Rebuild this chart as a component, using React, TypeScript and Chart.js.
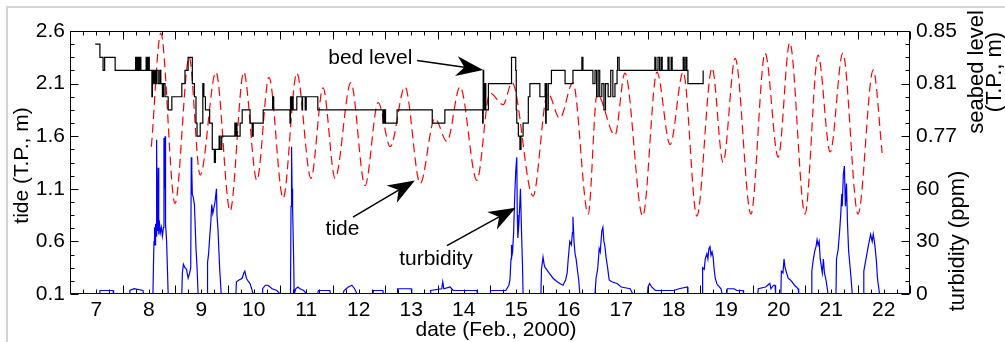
import React, { useEffect, useRef } from "react";
import { Chart, registerables } from "chart.js";
Chart.register(...registerables);

// ---------- axes ----------
const X_MIN = 7;
const X_MAX = 23;
const DAY_LABELS = [7, 8, 9, 10, 11, 12, 13, 14, 15, 16, 17, 18, 19, 20, 21, 22];
const TIDE_MIN = 0.1;
const TIDE_MAX = 2.6;
const TIDE_TICKS = [0.1, 0.6, 1.1, 1.6, 2.1, 2.6];
const SEABED_MIN = 0.65;
const SEABED_MAX = 0.85;
const SEABED_TICKS = [0.77, 0.81, 0.85];
const TURB_MIN = 0;
const TURB_MAX = 150;
const TURB_TICKS = [0, 30, 60];

// ---------- data: [day, value] ----------
const TIDE: number[][] = [
  [8.55, 1.5], [8.73, 2.58], [9.0, 0.96], [9.27, 2.35], [9.48, 1.23], [9.78, 2.21], [10.05, 0.89],
  [10.31, 2.21], [10.56, 1.18], [10.79, 2.16], [11.06, 1.01], [11.32, 2.2], [11.59, 1.2], [11.82, 2.06],
  [12.05, 1.2], [12.35, 2.11], [12.62, 1.13], [12.87, 1.92], [13.1, 1.5], [13.38, 2.07], [13.67, 1.15],
  [13.95, 1.77], [14.18, 1.55], [14.43, 2.07], [14.75, 1.18], [15.0, 2.01], [15.25, 1.9], [15.42, 2.11],
  [15.82, 1.03], [16.1, 2.01], [16.33, 1.77], [16.58, 2.11], [16.87, 0.86], [17.04, 2.0], [17.38, 1.61],
  [17.57, 2.2], [17.91, 0.84], [18.18, 2.21], [18.43, 1.52], [18.68, 2.21], [18.94, 0.84], [19.23, 2.25],
  [19.44, 1.35], [19.67, 2.34], [19.97, 0.86], [20.24, 2.39], [20.49, 1.4], [20.71, 2.49], [21.0, 0.86],
  [21.25, 2.37], [21.48, 1.45], [21.72, 2.39], [22.01, 0.86], [22.3, 2.23], [22.47, 1.44],
];

const BED: number[][] = [
  [7.48, 0.84], [7.57, 0.83], [7.63, 0.82], [7.66, 0.83], [7.86, 0.82], [8.25, 0.83], [8.27, 0.82],
  [8.29, 0.83], [8.31, 0.82], [8.33, 0.83], [8.35, 0.82], [8.45, 0.83], [8.47, 0.82], [8.49, 0.83],
  [8.51, 0.82], [8.56, 0.8], [8.57, 0.82], [8.59, 0.81], [8.61, 0.82], [8.63, 0.81], [8.65, 0.82],
  [8.68, 0.81], [8.71, 0.82], [8.73, 0.81], [8.76, 0.8], [8.78, 0.81], [8.81, 0.8], [8.87, 0.79],
  [8.94, 0.8], [9.13, 0.81], [9.19, 0.82], [9.25, 0.83], [9.33, 0.81], [9.37, 0.8], [9.4, 0.78],
  [9.42, 0.77], [9.48, 0.78], [9.53, 0.81], [9.55, 0.8], [9.58, 0.79], [9.66, 0.78], [9.71, 0.76],
  [9.75, 0.75], [9.77, 0.76], [9.84, 0.77], [9.86, 0.76], [9.89, 0.77], [10.14, 0.78], [10.15, 0.77],
  [10.17, 0.78], [10.18, 0.77], [10.24, 0.78], [10.28, 0.79], [10.43, 0.78], [10.47, 0.77], [10.49, 0.78],
  [10.68, 0.79], [10.86, 0.8], [10.88, 0.79], [11.19, 0.78], [11.2, 0.8], [11.22, 0.79], [11.23, 0.8],
  [11.25, 0.79], [11.32, 0.8], [11.42, 0.79], [11.43, 0.8], [11.48, 0.79], [11.5, 0.8], [11.72, 0.79],
  [12.96, 0.78], [12.97, 0.79], [12.98, 0.78], [13.0, 0.79], [13.01, 0.78], [13.23, 0.79], [13.9, 0.78],
  [14.14, 0.79], [14.86, 0.78], [14.87, 0.82], [14.88, 0.79], [14.9, 0.81], [14.92, 0.79], [14.97, 0.81],
  [15.41, 0.83], [15.49, 0.82], [15.5, 0.79], [15.51, 0.78], [15.54, 0.77], [15.57, 0.76], [15.59, 0.77],
  [15.63, 0.78], [15.73, 0.8], [15.76, 0.81], [15.95, 0.8], [16.05, 0.81], [16.06, 0.78], [16.07, 0.81],
  [16.08, 0.79], [16.11, 0.81], [16.17, 0.82], [16.43, 0.81], [16.58, 0.82], [16.75, 0.83], [16.77, 0.82],
  [16.96, 0.81], [17.0, 0.82], [17.03, 0.8], [17.06, 0.82], [17.09, 0.8], [17.13, 0.81], [17.17, 0.79],
  [17.2, 0.81], [17.25, 0.8], [17.3, 0.82], [17.34, 0.8], [17.38, 0.81], [17.42, 0.82], [17.43, 0.83],
  [17.46, 0.82], [18.14, 0.83], [18.16, 0.82], [18.2, 0.83], [18.23, 0.82], [18.26, 0.83], [18.28, 0.82],
  [18.39, 0.83], [18.41, 0.82], [18.45, 0.83], [18.47, 0.82], [18.68, 0.83], [18.7, 0.82], [18.73, 0.83],
  [18.75, 0.82], [18.77, 0.81], [19.06, 0.82],
];

const TURBIDITY: number[][] = [
  [7.0, 0], [7.56, 0], [7.57, 2], [7.82, 2], [7.83, 0], [8.13, 0], [8.14, 2], [8.22, 3], [8.39, 2], [8.4, 0],
  [8.58, 0], [8.59, 17], [8.6, 30], [8.61, 38], [8.62, 28], [8.63, 40], [8.64, 33], [8.65, 88], [8.66, 40],
  [8.67, 36], [8.68, 72], [8.69, 34], [8.7, 42], [8.72, 35], [8.74, 38], [8.76, 33], [8.78, 38], [8.79, 89],
  [8.8, 60], [8.81, 90], [8.82, 40], [8.84, 30], [8.86, 10], [8.87, 0],
  [9.13, 0], [9.14, 12], [9.16, 17], [9.19, 15], [9.22, 14], [9.25, 9], [9.28, 12], [9.3, 15], [9.31, 78],
  [9.32, 70], [9.33, 57], [9.35, 55], [9.37, 51], [9.4, 26], [9.42, 15], [9.44, 0],
  [9.61, 0], [9.62, 18], [9.64, 23], [9.66, 32], [9.68, 40], [9.7, 51], [9.72, 46], [9.74, 49], [9.76, 52],
  [9.79, 60], [9.8, 45], [9.82, 36], [9.85, 15], [9.88, 0],
  [10.16, 0], [10.17, 7], [10.22, 8], [10.28, 9], [10.31, 12], [10.33, 13], [10.36, 9], [10.4, 7], [10.43, 6],
  [10.49, 0], [10.66, 0], [10.67, 3], [10.72, 5], [10.77, 5], [10.85, 3], [10.94, 2], [11.0, 0],
  [11.2, 0], [11.21, 50], [11.22, 84], [11.23, 60], [11.24, 49], [11.26, 20], [11.27, 0], [11.28, 0],
  [11.3, 3], [11.34, 4], [11.38, 3], [11.45, 2], [11.51, 0], [11.72, 0], [11.73, 2], [11.95, 2], [11.96, 0],
  [12.2, 0], [12.22, 2], [12.3, 4], [12.37, 5], [12.42, 3], [12.47, 0], [12.77, 0], [12.78, 2], [12.96, 2],
  [12.97, 0], [13.23, 0], [13.24, 3], [13.5, 3], [13.51, 0], [13.86, 0], [13.87, 2], [14.08, 3], [14.1, 7],
  [14.12, 3], [14.24, 4], [14.3, 2], [14.75, 2], [14.76, 0],
  [15.0, 0], [15.01, 2], [15.3, 2], [15.36, 5], [15.38, 8], [15.4, 20], [15.41, 28], [15.43, 24], [15.45, 35],
  [15.47, 55], [15.49, 70], [15.51, 78], [15.52, 45], [15.53, 32], [15.55, 40], [15.57, 53], [15.58, 60],
  [15.6, 36], [15.62, 15], [15.63, 0],
  [15.97, 0], [15.98, 14], [16.01, 21], [16.03, 17], [16.05, 15], [16.08, 14], [16.1, 13], [16.15, 11],
  [16.2, 9], [16.28, 7], [16.33, 6], [16.39, 5], [16.44, 8], [16.47, 12], [16.49, 20], [16.52, 30],
  [16.55, 28], [16.57, 35], [16.58, 44], [16.6, 30], [16.62, 23], [16.64, 20], [16.66, 15], [16.69, 8],
  [16.71, 0],
  [17.0, 0], [17.02, 9], [17.05, 14], [17.08, 26], [17.1, 24], [17.13, 36], [17.15, 38], [17.17, 30],
  [17.19, 27], [17.21, 21], [17.24, 15], [17.27, 8], [17.32, 7], [17.42, 6], [17.5, 4], [17.67, 3], [17.72, 0],
  [18.0, 0], [18.01, 4], [18.04, 6], [18.08, 4], [18.15, 2], [18.5, 2], [18.6, 3], [18.76, 4], [18.77, 0],
  [19.04, 0], [19.05, 15], [19.08, 14], [19.1, 20], [19.13, 23], [19.15, 20], [19.17, 26], [19.19, 27],
  [19.21, 22], [19.23, 24], [19.25, 21], [19.27, 14], [19.29, 9], [19.32, 6], [19.34, 5], [19.4, 3], [19.42, 0],
  [19.51, 0], [19.52, 3], [19.65, 3], [19.7, 2], [19.82, 2], [19.83, 0],
  [20.1, 0], [20.11, 3], [20.25, 4], [20.33, 6], [20.35, 3], [20.4, 5], [20.43, 5], [20.44, 0],
  [20.54, 0], [20.55, 13], [20.58, 12], [20.6, 20], [20.62, 15], [20.65, 12], [20.68, 9], [20.72, 8],
  [20.75, 7], [20.8, 5], [20.87, 3], [20.88, 0],
  [21.12, 0], [21.13, 13], [21.16, 20], [21.19, 25], [21.21, 27], [21.23, 31], [21.25, 28], [21.27, 30],
  [21.29, 20], [21.31, 16], [21.33, 12], [21.35, 20], [21.37, 12], [21.4, 8], [21.44, 0],
  [21.59, 0], [21.6, 20], [21.63, 25], [21.66, 36], [21.68, 45], [21.7, 57], [21.71, 50], [21.73, 68],
  [21.75, 73], [21.77, 50], [21.79, 63], [21.81, 40], [21.83, 25], [21.86, 15], [21.88, 8], [21.9, 0],
  [22.11, 0], [22.12, 13], [22.15, 18], [22.18, 23], [22.21, 28], [22.25, 34], [22.28, 30], [22.3, 34],
  [22.33, 28], [22.36, 19], [22.38, 9], [22.42, 0], [23.0, 0],
];

// annotations: [label, textX(day), textY(tide), arrowFromX, arrowFromY, arrowToX, arrowToY]
const NOTES: [string, number, number, number, number, number, number][] = [
  ["bed level", 13.52, 2.34, 13.61, 2.32, 14.87, 2.23],
  ["tide", 12.19, 0.72, 12.39, 0.83, 13.57, 1.18],
  ["turbidity", 13.97, 0.43, 14.18, 0.56, 15.49, 0.92],
];

const FONT = "'Liberation Sans', Arial, Helvetica, sans-serif";

function turbToSeabed(v: number) {
  return SEABED_MIN + ((v - TURB_MIN) / (TURB_MAX - TURB_MIN)) * (SEABED_MAX - SEABED_MIN);
}
function seabedToTurb(v: number) {
  return TURB_MIN + ((v - SEABED_MIN) / (SEABED_MAX - SEABED_MIN)) * (TURB_MAX - TURB_MIN);
}

function drawArrow(ctx: CanvasRenderingContext2D, x0: number, y0: number, x1: number, y1: number) {
  const ang = Math.atan2(y1 - y0, x1 - x0);
  const c = Math.cos(ang), s = Math.sin(ang);
  const L = 27, W = 10, N = 19;
  ctx.beginPath();
  ctx.moveTo(x0, y0);
  ctx.lineTo(x1 - c * N, y1 - s * N);
  ctx.stroke();
  const bx = x1 - c * L, by = y1 - s * L;
  ctx.beginPath();
  ctx.moveTo(x1, y1);
  ctx.lineTo(bx - s * W, by + c * W);
  ctx.lineTo(x1 - c * N, y1 - s * N);
  ctx.lineTo(bx + s * W, by - c * W);
  ctx.closePath();
  ctx.fill();
}

function vText(ctx: CanvasRenderingContext2D, text: string, cx: number, cy: number) {
  ctx.save();
  ctx.translate(cx, cy);
  ctx.rotate(-Math.PI / 2);
  ctx.textAlign = "center";
  ctx.textBaseline = "middle";
  ctx.fillText(text, 0, 0);
  ctx.restore();
}

const decor = {
  id: "decor",
  beforeDatasetsDraw(chart: any) {
    const { ctx, chartArea: a, scales } = chart;
    const x = scales.x, y = scales.y;
    ctx.save();
    ctx.strokeStyle = "#000";
    ctx.lineWidth = 1;
    const L = Math.round(a.left) + 0.5, R = Math.round(a.right) - 0.5;
    const T = Math.round(a.top) + 0.5, B = Math.round(a.bottom) - 0.5;
    ctx.strokeRect(L, T, R - L, B - T);
    ctx.beginPath();
    for (let t = X_MIN; t <= X_MAX + 1e-9; t += 0.25) {
      const px = Math.round(x.getPixelForValue(t)) + 0.5;
      const len = Math.abs(t - Math.round(t)) < 1e-6 ? 8 : 4;
      ctx.moveTo(px, B); ctx.lineTo(px, B - len);
      ctx.moveTo(px, T); ctx.lineTo(px, T + len);
    }
    for (let v = TIDE_MIN; v <= TIDE_MAX + 1e-9; v += 0.125) {
      const py = Math.round(y.getPixelForValue(v)) + 0.5;
      const major = TIDE_TICKS.some((k) => Math.abs(k - v) < 1e-6);
      const len = major ? 8 : 4;
      ctx.moveTo(L, py); ctx.lineTo(L + len, py);
      ctx.moveTo(R, py); ctx.lineTo(R - len, py);
    }
    ctx.stroke();
    ctx.restore();
  },
  afterDatasetsDraw(chart: any) {
    const { ctx, chartArea: a, scales } = chart;
    const x = scales.x, y = scales.y;
    ctx.save();
    ctx.fillStyle = "#000";
    ctx.strokeStyle = "#000";
    ctx.font = `21px ${FONT}`;
    ctx.lineWidth = 1.5;
    NOTES.forEach(([label, tx, ty, fx, fy, ax, ay], i) => {
      ctx.textAlign = i === 0 ? "right" : "center";
      ctx.textBaseline = "middle";
      ctx.fillText(label, x.getPixelForValue(tx), y.getPixelForValue(ty));
      drawArrow(ctx, x.getPixelForValue(fx), y.getPixelForValue(fy), x.getPixelForValue(ax), y.getPixelForValue(ay));
    });
    // axis titles
    ctx.textAlign = "center";
    ctx.textBaseline = "middle";
    ctx.fillText("date (Feb., 2000)", (a.left + a.right) / 2 + 6, 330);
    vText(ctx, "tide (T.P., m)", 22, (a.top + a.bottom) / 2 + 3);
    ctx.font = `22px ${FONT}`;
    vText(ctx, "seabed level", 977, 72);
    vText(ctx, "(T.P., m)", 995, 72);
    vText(ctx, "turbidity (ppm)", 958, 241);
    ctx.restore();
  },
};

export default function App() {
  const ref = useRef<HTMLCanvasElement | null>(null);
  useEffect(() => {
    if (!ref.current) return;
    const font = { family: FONT, size: 21 };
    const chart = new Chart(ref.current, {
      type: "line",
      data: {
        datasets: [
          {
            label: "bed level",
            data: BED.map(([t, v]) => ({ x: t, y: v })),
            yAxisID: "y2",
            borderColor: "#000000",
            borderWidth: 1.2,
            stepped: true,
            pointRadius: 0,
            fill: false,
          },
          {
            label: "tide",
            data: TIDE.map(([t, v]) => ({ x: t, y: v })),
            yAxisID: "y",
            borderColor: "#ff0000",
            borderWidth: 1.2,
            borderDash: [9, 5],
            cubicInterpolationMode: "monotone",
            pointRadius: 0,
            fill: false,
          },
          {
            label: "turbidity",
            data: TURBIDITY.map(([t, v]) => ({ x: t, y: v })),
            yAxisID: "y3",
            borderColor: "#0000ff",
            borderWidth: 1.2,
            pointRadius: 0,
            tension: 0,
            fill: false,
          },
        ],
      },
      options: {
        animation: false,
        responsive: false,
        devicePixelRatio: 1,
        layout: { padding: { top: 31, left: 0, right: 0, bottom: 0 } },
        plugins: { legend: { display: false }, tooltip: { enabled: false } },
        scales: {
          x: {
            type: "linear",
            min: X_MIN,
            max: X_MAX,
            grid: { display: false, drawTicks: false },
            border: { display: false },
            afterBuildTicks: (s: any) => {
              s.ticks = DAY_LABELS.map((d) => ({ value: d + 0.5 }));
            },
            afterFit: (s: any) => {
              s.height = 48;
            },
            ticks: {
              autoSkip: false,
              maxRotation: 0,
              padding: 4,
              color: "#000",
              font,
              callback: (v: any) => String(Math.floor(Number(v))),
            },
          },
          y: {
            position: "left",
            min: TIDE_MIN,
            max: TIDE_MAX,
            grid: { display: false, drawTicks: false },
            border: { display: false },
            afterBuildTicks: (s: any) => {
              s.ticks = TIDE_TICKS.map((v) => ({ value: v }));
            },
            afterFit: (s: any) => {
              s.width = 70;
            },
            ticks: { padding: 5, color: "#000", font, callback: (v: any) => Number(v).toFixed(1) },
          },
          y2: {
            position: "right",
            min: SEABED_MIN,
            max: SEABED_MAX,
            grid: { display: false, drawTicks: false },
            border: { display: false },
            afterBuildTicks: (s: any) => {
              s.ticks = [...TURB_TICKS.map(turbToSeabed), ...SEABED_TICKS].map((v) => ({ value: v }));
            },
            afterFit: (s: any) => {
              s.width = 95;
            },
            ticks: {
              padding: 6,
              color: "#000",
              font,
              callback: (v: any) => {
                const n = Number(v);
                if (SEABED_TICKS.some((k) => Math.abs(k - n) < 1e-6)) return n.toFixed(2);
                return String(Math.round(seabedToTurb(n)));
              },
            },
          },
          y3: {
            display: false,
            min: TURB_MIN,
            max: TURB_MAX,
          },
        },
      },
      plugins: [decor],
    } as any);
    return () => chart.destroy();
  }, []);

  return (
    <div style={{ position: "fixed", left: 0, top: 0, width: 1005, height: 342, background: "#fff" }}>
      <canvas ref={ref} width={1005} height={342} style={{ position: "absolute", left: 0, top: 0 }} />
      <div
        style={{
          position: "absolute",
          left: 6,
          top: 6,
          right: 0,
          bottom: 0,
          borderTop: "2px solid #d4d4d4",
          borderLeft: "2px solid #d4d4d4",
          pointerEvents: "none",
        }}
      />
    </div>
  );
}
